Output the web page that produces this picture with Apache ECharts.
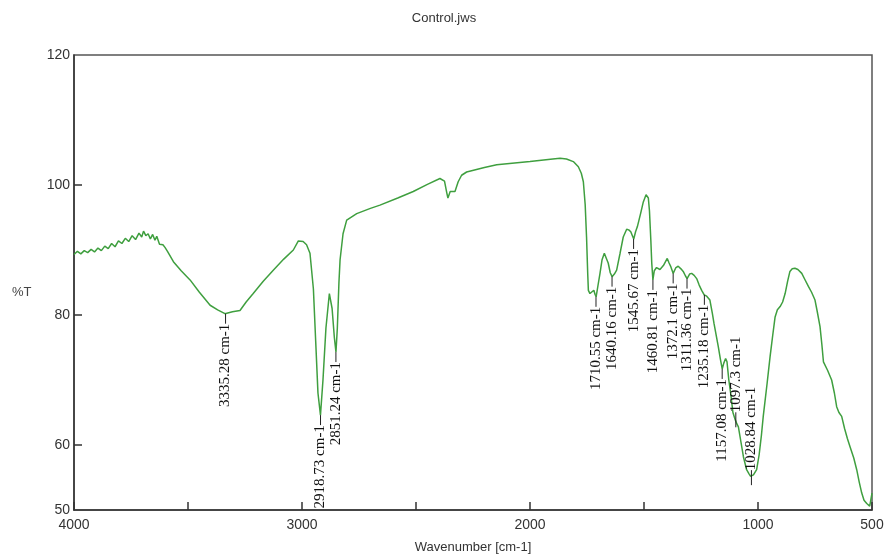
<!DOCTYPE html>
<html>
<head>
<meta charset="utf-8">
<title>Control.jws</title>
<script src="https://cdn.jsdelivr.net/npm/echarts@6/dist/echarts.min.js"></script>
<style>
  html, body { margin: 0; padding: 0; background: #fff; }
  #chart { width: 888px; height: 557px; }
</style>
</head>
<body>
<div id="chart"></div>
<script>
  // spectrum (wavenumber in cm-1, %T)
  const wavenumber = [
    4000, 3985, 3970, 3955, 3940, 3925, 3910, 3895, 3880, 3865, 3850, 3835, 3820, 3805, 3790,
    3775, 3760, 3745, 3730, 3715, 3703, 3695, 3685, 3675, 3665, 3655, 3645, 3637, 3625, 3610,
    3601, 3590, 3564, 3530, 3491, 3450, 3403, 3370, 3338, 3305, 3272, 3245, 3214, 3170, 3126,
    3080, 3038, 3016, 2995, 2980, 2965, 2950, 2940, 2930, 2919, 2908, 2895, 2880, 2868, 2858,
    2851, 2845, 2838, 2833, 2820, 2804, 2760, 2700, 2658, 2580, 2512, 2450, 2395, 2375, 2365,
    2360, 2350, 2343, 2329, 2315, 2300, 2278, 2200, 2146, 2000, 1900, 1868, 1840, 1810, 1788,
    1775, 1766, 1758, 1752, 1747, 1744, 1737, 1729, 1720, 1715, 1710, 1702, 1693, 1684, 1674,
    1665, 1657, 1648, 1640, 1630, 1620, 1605, 1591, 1576, 1567, 1558, 1551, 1545, 1537, 1529,
    1515, 1503, 1491, 1481, 1476, 1470, 1466, 1461, 1455, 1445, 1430, 1415, 1398, 1390, 1382,
    1372, 1360, 1350, 1338, 1328, 1318, 1311, 1300, 1291, 1280, 1269, 1258, 1247, 1236, 1225,
    1211, 1200, 1193, 1174, 1165, 1157, 1150, 1142, 1136, 1128, 1120, 1110, 1100, 1092, 1086,
    1075, 1064, 1050, 1040, 1033, 1029, 1020, 1006, 995, 985, 977, 960, 947, 935, 925,
    915, 903, 892, 881, 870, 860, 850, 838, 825, 808, 795, 779, 765, 750, 740,
    728, 720, 713, 705, 695, 677, 665, 655, 645, 633, 620, 608, 596, 580, 567,
    556, 545, 535, 523, 510, 502, 500
  ]
  const transmittance = [
    89.3, 89.8, 89.4, 89.9, 89.6, 90.1, 89.7, 90.3, 89.9, 90.6, 90.2, 91.0, 90.5, 91.4, 91.0,
    91.8, 91.3, 92.2, 91.6, 92.6, 92.0, 92.9, 92.2, 92.5, 91.7, 92.4, 91.5, 92.1, 90.9, 90.8,
    90.4, 89.8, 88.2, 86.8, 85.4, 83.5, 81.5, 80.8, 80.2, 80.5, 80.7, 82.0, 83.3, 85.2, 86.9,
    88.6, 90.0, 91.4, 91.3, 90.8, 89.5, 84.0, 76.0, 68.0, 64.6, 70.0, 78.0, 83.3, 81.0, 76.5,
    74.3, 78.0, 85.0, 88.5, 92.5, 94.6, 95.6, 96.4, 96.9, 98.0, 99.0, 100.1, 101.0, 100.6, 98.8,
    98.0, 99.0, 99.2, 99.0, 100.5, 101.5, 102.0, 102.7, 103.1, 103.6, 104.0, 104.1, 104.0, 103.6, 102.8,
    101.8, 100.5, 97.0, 92.0, 86.5, 83.8, 83.3, 83.1, 83.8, 83.2, 82.8, 84.5, 86.4, 88.5, 89.5,
    88.7, 88.0, 86.5, 85.9, 86.3, 86.9, 89.5, 92.0, 93.2, 93.1, 92.8, 92.2, 91.7, 92.8, 93.6,
    95.6, 97.4, 98.5, 98.0, 96.0, 91.5, 88.0, 85.4, 86.8, 87.3, 87.0, 87.6, 88.7, 88.0, 87.4,
    86.4, 87.3, 87.5, 87.1, 86.7, 86.0, 85.6, 86.3, 86.4, 86.1, 85.6, 84.6, 83.8, 83.1, 82.9,
    82.3, 80.2, 78.7, 75.1, 73.2, 71.7, 72.6, 73.3, 72.8, 70.0, 68.0, 65.0, 63.9, 63.2, 62.8,
    60.5, 58.2, 56.2, 55.6, 55.2, 54.9, 55.4, 56.2, 58.5, 61.5, 64.4, 69.5, 73.6, 77.0, 79.7,
    80.8, 81.3, 82.0, 83.3, 85.2, 86.7, 87.1, 87.2, 87.0, 86.4, 85.5, 84.4, 83.5, 82.3, 80.5,
    78.2, 75.5, 72.8, 72.5, 71.5, 70.0, 68.0, 65.9, 65.0, 64.4, 62.5, 61.0, 59.7, 58.0, 56.2,
    54.3, 52.6, 51.5, 51.0, 50.6, 50.5, 52.6
  ]

  // picked peaks
  const peakWn = [3335.28, 2918.73, 2851.24, 1710.55, 1640.16, 1545.67, 1460.81, 1372.1, 1311.36, 1235.18, 1157.08, 1097.3, 1028.84]
  const peakT = [80.2, 64.6, 74.3, 82.8, 85.9, 91.7, 85.4, 86.4, 85.6, 83.1, 71.7, 63.8, 54.9]
  // which labels are written upwards from the peak instead of downwards
  const labelUp = [false, false, false, false, false, false, false, false, false, false, false, true, true]

  const yLabels = [50, 60, 80, 100, 120]
  const yTicks = [60, 80, 100]
  const xLabels = [4000, 3000, 2000, 1000, 500]

  const lineColor = '#3f9f3f'
  const axisColor = '#333'
  const sans = 'Liberation Sans, Arial, sans-serif'

  const chart = echarts.init(document.getElementById('chart'))

  const spectrum = wavenumber.map((w, i) => [w, transmittance[i]])
  const peaks = peakWn.map((w, i) => [w, peakT[i]])

  function renderPeak(params, api) {
    const p = api.coord([api.value(0), api.value(1)])
    const up = labelUp[params.dataIndex]
    const text = peakWn[params.dataIndex] + ' cm-1'
    let line, label
    if (up) {
      line = { x1: p[0], y1: p[1] - 8, x2: p[0], y2: p[1] + 7 }
      label = { x: p[0], y: p[1] - 8, align: 'left' }
    } else {
      line = { x1: p[0], y1: p[1], x2: p[0], y2: p[1] + 10 }
      label = { x: p[0], y: p[1] + 10, align: 'right' }
    }
    return {
      type: 'group',
      children: [
        {
          type: 'line',
          shape: line,
          style: { stroke: '#222', lineWidth: 1 }
        },
        {
          type: 'text',
          x: label.x,
          y: label.y,
          rotation: Math.PI / 2,
          style: {
            text: text,
            font: '15px "Liberation Serif", "DejaVu Serif", serif',
            fill: '#111',
            align: label.align,
            verticalAlign: 'middle'
          }
        }
      ]
    }
  }

  chart.setOption({
    animation: false,
    backgroundColor: '#fff',
    title: {
      text: 'Control.jws',
      left: 'center',
      top: 7,
      textStyle: {
        fontFamily: sans,
        fontSize: 13,
        fontWeight: 'normal',
        color: '#333'
      }
    },
    graphic: [
      {
        type: 'text',
        left: 12,
        top: 286,
        style: { text: '%T', font: '13px ' + sans, fill: '#444' }
      }
    ],
    grid: {
      left: 74,
      right: 16,
      top: 55,
      bottom: 47,
      outerBoundsMode: 'none',
      show: true,
      borderColor: '#555',
      borderWidth: 1.5
    },
    xAxis: {
      type: 'value',
      min: 500,
      max: 4000,
      interval: 500,
      inverse: true,
      name: 'Wavenumber [cm-1]',
      nameLocation: 'middle',
      nameGap: 31,
      nameTextStyle: { fontFamily: sans, fontSize: 13, color: '#333' },
      axisLine: { lineStyle: { color: axisColor, width: 1.5 } },
      axisTick: { inside: true, length: 8, lineStyle: { color: axisColor, width: 1.5 } },
      axisLabel: {
        customValues: xLabels,
        formatter: v => String(v),
        margin: 8,
        fontFamily: sans,
        fontSize: 14,
        color: '#333'
      },
      splitLine: { show: false }
    },
    yAxis: {
      type: 'value',
      min: 50,
      max: 120,
      interval: 10,
      axisLine: { show: true, lineStyle: { color: axisColor, width: 1.5 } },
      axisTick: { inside: true, length: 8, customValues: yTicks, lineStyle: { color: axisColor, width: 1.5 } },
      axisLabel: {
        customValues: yLabels,
        margin: 4,
        fontFamily: sans,
        fontSize: 14,
        color: '#333'
      },
      splitLine: { show: false }
    },
    series: [
      {
        name: 'Control',
        type: 'line',
        data: spectrum,
        showSymbol: false,
        lineStyle: { color: lineColor, width: 1.5 },
        itemStyle: { color: lineColor },
        z: 2
      },
      {
        name: 'peaks',
        type: 'custom',
        data: peaks,
        renderItem: renderPeak,
        clip: false,
        z: 3
      }
    ]
  })
</script>
</body>
</html>
